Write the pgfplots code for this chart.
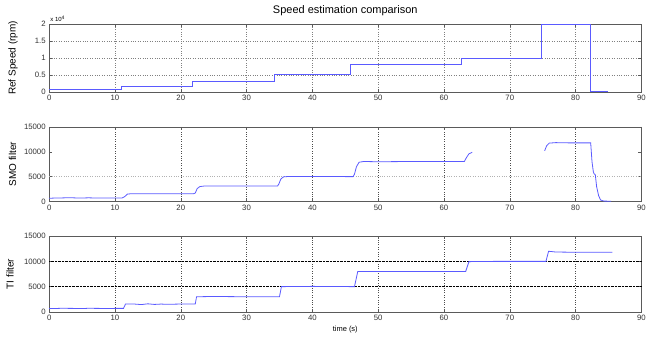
\documentclass[border=0pt]{standalone}
\usepackage{pgfplots}
\pgfplotsset{compat=1.18}
\usepackage{fontspec}
\setmainfont{Liberation Sans}
\definecolor{ln}{RGB}{90,90,255}
\definecolor{fr}{RGB}{90,90,90}
\pgfplotsset{
  base/.style={
    scale only axis, width=593.7pt, anchor=south west,
    xmin=0, xmax=90, xtick={0,10,...,90},
    axis line style={fr}, tick style={fr, line width=0.4pt},
    major tick length=3pt, tick align=inside,
    scaled y ticks=false,
    tick label style={font=\fontsize{7.8}{9}\selectfont, text=black!80},
    /pgf/number format/assume math mode=true,
    /pgf/number format/1000 sep={},
    ylabel style={font=\fontsize{10}{12}\selectfont, anchor=center},
  },
  sp/.style={ln, line width=0.8pt, no marks, solid},
}
\begin{document}
\begin{tikzpicture}[x=1pt,y=1pt]
\path (0,0) rectangle (649,338);
% top
\begin{axis}[base, at={(49.3pt,246pt)}, height=67.7pt,
  ymin=0, ymax=2, ytick={0,0.5,1,1.5,2}, yticklabels={0,0.5,1,1.5,2},
  xmajorgrids, ymajorgrids, grid style={dotted, black!50},
  clip=false,
  title={Speed estimation comparison},
  title style={font=\fontsize{11}{13}\selectfont, yshift=-1pt},
  ylabel={Ref Speed (rpm)},
  ylabel style={at={(axis description cs:-0.061,0.5)}}]
\addplot[sp] coordinates {(0,0.07) (11,0.07) (11,0.16) (21.8,0.16) (21.8,0.32) (34.3,0.32) (34.3,0.5) (45.8,0.5) (45.8,0.8) (62.7,0.8) (62.7,1.0) (74.75,1.0) (74.75,2.0) (82.2,2.0) (82.2,0) (85,0)};
\node[anchor=south west, font=\fontsize{6}{7}\selectfont, inner sep=1pt] at (axis description cs:0,1.02) {x 10\textsuperscript{4}};
\end{axis}
% middle
\begin{axis}[base, at={(49.3pt,136pt)}, height=74.7pt,
  ymin=0, ymax=15000, ytick={0,5000,10000,15000},
  xmajorgrids, grid style={dotted, black!70},
  extra y ticks={5000}, extra y tick labels={},
  extra y tick style={ymajorgrids, major tick length=0pt, grid style={dotted, black!30}},
  ylabel={SMO filter},
  ylabel style={at={(axis description cs:-0.062,0.5)}}]
\addplot[sp] coordinates {(0,650) (1,700) (2,720) (3,760) (4,720) (5,700) (6,740) (7,700) (8,720) (9,700) (10.5,700) (11.1,720) (11.5,1000) (11.9,1500) (12.5,1560) (15,1550) (18,1560) (21.9,1540) (22.2,1700) (22.5,2600) (22.9,3000) (23.5,3100) (27,3100) (30,3100) (34.7,3100) (34.9,3500) (35.2,4500) (35.6,4950) (36.5,5050) (40,5050) (46.2,5000) (46.4,5500) (46.7,7000) (47.1,7900) (47.8,8050) (50,8000) (55,8050) (60,8050) (63.1,8050) (63.4,8800) (63.8,9600) (64.3,9900)};
\addplot[sp] coordinates {(75.3,10200) (75.6,11200) (76,11750) (77,11850) (79,11800) (82.3,11800) (82.5,8000) (82.7,6000) (82.8,5600) (83,5400) (83.2,3000) (83.5,1200) (83.8,300) (84.3,80) (85.4,50)};
\end{axis}
% bottom
\begin{axis}[base, at={(49.3pt,25.3pt)}, height=76pt,
  ymin=0, ymax=15000, ytick={0,5000,10000,15000},
  xmajorgrids, grid style={dotted, black!70},
  extra y ticks={5000,10000}, extra y tick labels={},
  extra y tick style={ymajorgrids, major tick length=0pt, grid style={densely dotted, black}},
  ylabel={TI filter},
  ylabel style={at={(axis description cs:-0.066,0.5)}},
  xlabel={time (s)},
  xlabel style={font=\fontsize{7.5}{9}\selectfont, yshift=2pt}]
\addplot[sp] coordinates {(0,650) (1,680) (2,720) (3,700) (4,690) (5,660) (6,720) (7,700) (8,690) (9,660) (10,700) (11.3,700) (11.6,1550) (13,1550) (14,1450) (15,1600) (16,1480) (17,1550) (18,1500) (20,1560) (22.2,1550) (22.4,3000) (25,3050) (30,3000) (35,3000) (35.3,5000) (40,5050) (46.4,5000) (46.9,8000) (50,8000) (55,8000) (63.3,8000) (63.8,9950) (68,10000) (75.5,10000) (75.9,12000) (77,11850) (80,11800) (85.6,11800)};
\end{axis}
\end{tikzpicture}
\end{document}
